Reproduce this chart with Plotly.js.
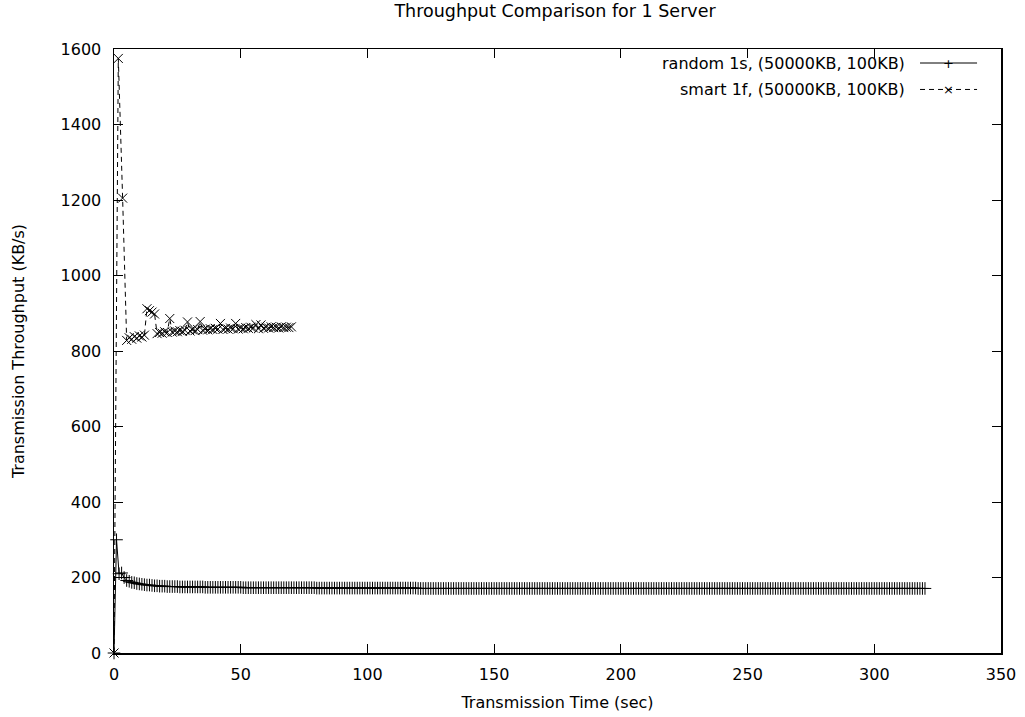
<!DOCTYPE html>
<html>
<head>
<meta charset="utf-8">
<script src="https://cdn.plot.ly/plotly-3.0.1.min.js"></script>
<style>html,body{margin:0;padding:0;background:#fff;}#chart{width:1025px;height:717px;}</style>
</head>
<body>
<div id="chart"></div>
<script>
// random 1s series: one sample per second, t = 0..320
const randomTime = [
  0,1,2,3,4,5,6,7,8,9,10,11,12,13,14,15,16,17,18,19,
  20,21,22,23,24,25,26,27,28,29,30,31,32,33,34,35,36,37,38,39,
  40,41,42,43,44,45,46,47,48,49,50,51,52,53,54,55,56,57,58,59,
  60,61,62,63,64,65,66,67,68,69,70,71,72,73,74,75,76,77,78,79,
  80,81,82,83,84,85,86,87,88,89,90,91,92,93,94,95,96,97,98,99,
  100,101,102,103,104,105,106,107,108,109,110,111,112,113,114,115,116,117,118,119,
  120,121,122,123,124,125,126,127,128,129,130,131,132,133,134,135,136,137,138,139,
  140,141,142,143,144,145,146,147,148,149,150,151,152,153,154,155,156,157,158,159,
  160,161,162,163,164,165,166,167,168,169,170,171,172,173,174,175,176,177,178,179,
  180,181,182,183,184,185,186,187,188,189,190,191,192,193,194,195,196,197,198,199,
  200,201,202,203,204,205,206,207,208,209,210,211,212,213,214,215,216,217,218,219,
  220,221,222,223,224,225,226,227,228,229,230,231,232,233,234,235,236,237,238,239,
  240,241,242,243,244,245,246,247,248,249,250,251,252,253,254,255,256,257,258,259,
  260,261,262,263,264,265,266,267,268,269,270,271,272,273,274,275,276,277,278,279,
  280,281,282,283,284,285,286,287,288,289,290,291,292,293,294,295,296,297,298,299,
  300,301,302,303,304,305,306,307,308,309,310,311,312,313,314,315,316,317,318,319,
  320
];
const randomThroughput = [
  0,300,210,212,200,192,190,187,186,184,183,182,181,180,180,179,178,178,177,177,
  177,176,176,176,176,176,175,175,175,175,175,175,175,175,175,175,174,174,174,174,
  174,174,174,174,174,174,174,174,174,174,174,173,173,173,173,173,173,173,173,173,
  173,173,173,173,173,173,173,173,173,173,173,173,173,173,173,173,173,173,173,173,
  172,172,172,172,172,172,172,172,172,172,172,172,172,172,172,172,172,172,172,172,
  172,172,172,172,172,172,172,172,172,172,172,172,172,172,172,172,172,172,172,172,
  171,171,171,171,171,171,171,171,171,171,171,171,171,171,171,171,171,171,171,171,
  171,171,171,171,171,171,171,171,171,171,171,171,171,171,171,171,171,171,171,171,
  171,171,171,171,171,171,171,171,171,171,171,171,171,171,171,171,171,171,171,171,
  171,171,171,171,171,171,171,171,171,171,171,171,171,171,171,171,171,171,171,171,
  171,171,171,171,171,171,171,171,171,171,171,171,171,171,171,171,171,171,171,171,
  171,171,171,171,171,171,171,171,171,171,171,171,171,171,171,171,171,171,171,171,
  171,171,171,171,171,171,171,171,171,171,171,171,171,171,171,171,171,171,171,171,
  171,171,171,171,171,171,171,171,171,171,171,171,171,171,171,171,171,171,171,171,
  171,171,171,171,171,171,171,171,171,171,171,171,171,171,171,171,171,171,171,171,
  171,171,171,171,171,171,171,171,171,171,171,171,171,171,171,171,171,171,171,171,
  171
];

// smart 1f series
const smartTime = [
  0,1.7,3.4,5,6,7,8,9,10,11,12,13,14,15,16,17,18,19,20,21,
  22,23,24,25,26,27,28,29,30,31,32,33,34,35,36,37,38,39,40,41,
  42,43,44,45,46,47,48,49,50,51,52,53,54,55,56,57,58,59,60,61,
  62,63,64,65,66,67,68,69,70
];
const smartThroughput = [
  0,1575,1205,828,835,831,838,834,840,837,842,912,907,903,898,846,849,847,851,849,
  886,850,853,851,854,852,855,877,853,856,854,857,878,855,858,856,859,857,860,858,
  873,857,860,858,861,859,873,858,861,859,862,860,863,861,870,859,869,860,863,861,
  864,862,863,861,864,862,863,862,864
];

const seriesNames = ["random 1s, (50000KB, 100KB)", "smart 1f, (50000KB, 100KB)"];
const xTicks = [0,50,100,150,200,250,300,350];
const yTicks = [0,200,400,600,800,1000,1200,1400,1600];

const FONT = "DejaVu Sans, Liberation Sans, Arial, sans-serif";
const FS = 16;

const traces = [
  {
    x: randomTime, y: randomThroughput, name: seriesNames[0],
    type: "scatter", mode: "lines+markers", cliponaxis: false,
    line: {color: "#000", width: 1},
    marker: {symbol: "cross-thin-open", size: 9, color: "#000", line: {color: "#000", width: 1}},
    showlegend: false
  },
  {
    x: smartTime, y: smartThroughput, name: seriesNames[1],
    type: "scatter", mode: "lines+markers", cliponaxis: false,
    line: {color: "#000", width: 1, dash: "5px,4px"},
    marker: {symbol: "x-thin-open", size: 9, color: "#000", line: {color: "#000", width: 1}},
    showlegend: false
  }
];

const axisCommon = {
  showgrid: false, zeroline: false, showline: true, linecolor: "#000", linewidth: 1.5,
  mirror: "allticks", ticks: "inside", ticklen: 9, tickwidth: 1, tickcolor: "#000",
  tickfont: {family: FONT, size: FS, color: "#000"}
};

const layout = {
  width: 1025, height: 717,
  margin: {l: 114, r: 24, t: 49, b: 64},
  paper_bgcolor: "#fff", plot_bgcolor: "#fff",
  font: {family: FONT, size: FS, color: "#000"},
  title: {text: "Throughput Comparison for 1 Server", font: {family: FONT, size: 17.5, color: "#000"},
          x: 0.5415, xanchor: "center", y: 0.993, yanchor: "top"},
  xaxis: Object.assign({}, axisCommon, {
    range: [0, 350], tickvals: xTicks, ticktext: xTicks.map(String),
    ticklabelstandoff: 6,
    title: {text: "Transmission Time (sec)", font: {family: FONT, size: FS, color: "#000"}, standoff: 14}
  }),
  yaxis: Object.assign({}, axisCommon, {
    range: [0, 1600], tickvals: yTicks, ticktext: yTicks.map(String),
    ticklabelstandoff: 8,
    title: {text: "Transmission Throughput (KB/s)", font: {family: FONT, size: FS, color: "#000"}, standoff: 32}
  }),
  showlegend: false,
  annotations: [
    {xref: "paper", yref: "paper", x: 0.894, y: 0.9768, xanchor: "right", yanchor: "middle",
     text: seriesNames[0], showarrow: false, font: {family: FONT, size: FS, color: "#000"}},
    {xref: "paper", yref: "paper", x: 0.894, y: 0.933, xanchor: "right", yanchor: "middle",
     text: seriesNames[1], showarrow: false, font: {family: FONT, size: FS, color: "#000"}},
    {xref: "paper", yref: "paper", x: 0.9403, y: 0.9768, xanchor: "center", yanchor: "middle",
     text: "+", showarrow: false, font: {family: FONT, size: 13, color: "#000"}},
    {xref: "paper", yref: "paper", x: 0.9403, y: 0.933, xanchor: "center", yanchor: "middle",
     text: "×", showarrow: false, font: {family: FONT, size: 13, color: "#000"}}
  ],
  shapes: [
    {type: "line", xref: "paper", yref: "paper", x0: 0.9087, x1: 0.973, y0: 0.9768, y1: 0.9768,
     line: {color: "#000", width: 1}},
    {type: "line", xref: "paper", yref: "paper", x0: 0.9087, x1: 0.973, y0: 0.933, y1: 0.933,
     line: {color: "#000", width: 1, dash: "5px,4px"}}
  ]
};

Plotly.newPlot("chart", traces, layout, {staticPlot: true, displayModeBar: false});
</script>
</body>
</html>
